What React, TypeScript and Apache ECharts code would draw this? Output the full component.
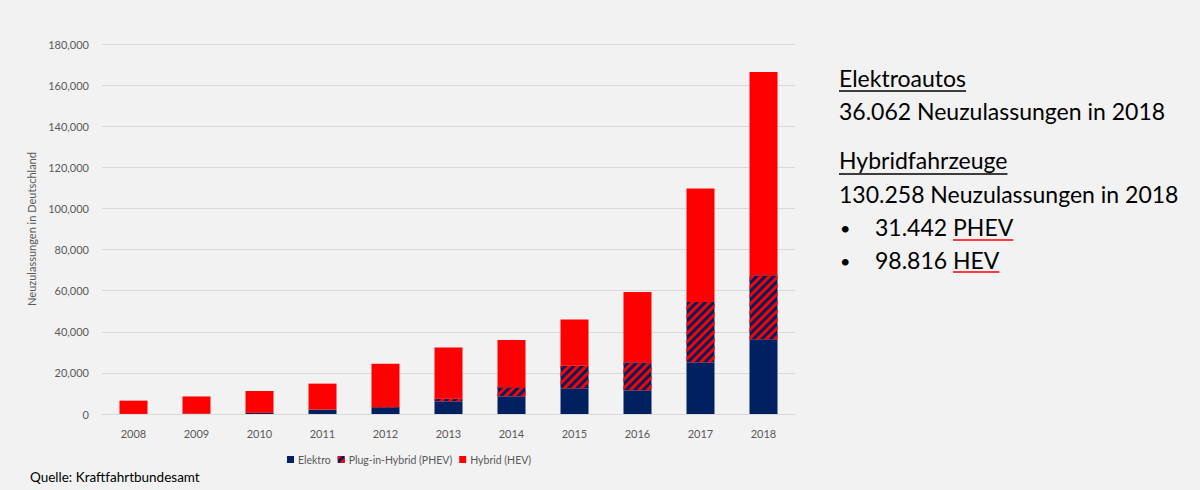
import React, { useEffect, useRef } from "react";
import * as echarts from "echarts";

const years = ["2008", "2009", "2010", "2011", "2012", "2013", "2014", "2015", "2016", "2017", "2018"];
const elektro = [36, 162, 541, 2154, 2956, 6051, 8522, 12363, 11410, 25056, 36062];
const phev = [0, 0, 0, 0, 400, 1385, 4527, 11101, 13744, 29436, 31442];
const hev = [6464, 8374, 10661, 12622, 21038, 24963, 22908, 22529, 34252, 55239, 98816];

const seriesNames = ["Elektro", "Plug-in-Hybrid (PHEV)", "Hybrid (HEV)"];
const yAxisName = "Neuzulassungen in Deutschland";
const sourceText = "Quelle: Kraftfahrtbundesamt";

const NAVY = "#002060";
const RED = "#ff0000";
const FONT = "Lato, 'Open Sans', sans-serif";
const BIG = 23;

function measure(text: string, size: number) {
  const c = document.createElement("canvas").getContext("2d");
  if (!c) return text.length * size * 0.5;
  c.font = `${size}px Lato`;
  return c.measureText(text).width;
}

export default function App() {
  const ref = useRef<HTMLDivElement>(null);
  useEffect(() => {
    document.body.style.margin = "0";
    document.body.style.background = "#f2f2f2";
    if (!ref.current) return;
    const chart = echarts.init(ref.current, undefined, { renderer: "svg" });
    const textStyleBig = { fill: "#000", fontSize: BIG, fontFamily: FONT };
    const line = (x1: number, x2: number, y: number, color: string) => ({
      type: "line",
      shape: { x1, y1: y, x2, y2: y },
      style: { stroke: color, lineWidth: 1.3 },
      silent: true,
    });
    const txt = (x: number, y: number, text: string, size = BIG) => ({
      type: "text",
      x,
      y: y - 3,
      style: { ...textStyleBig, fontSize: size, text, verticalAlign: "bottom" },
    });
    const under = (x: number, y: number, text: string, color: string) =>
      line(x, x + measure(text, BIG), y, color);
    const priceX = 875 + measure("31.442 ", BIG);
    const hevX = 875 + measure("98.816 ", BIG);
    chart.setOption({
      animation: false,
      backgroundColor: "#f2f2f2",
      textStyle: { fontFamily: FONT },
      grid: { left: 102, right: 405, top: 44, bottom: 76 },
      legend: {
        left: 282,
        top: 449,
        itemWidth: 7,
        itemHeight: 7,
        itemGap: 7,
        icon: "rect",
        textStyle: { color: "#595959", fontSize: 10.5, fontFamily: FONT, padding: [0, 0, 0, -1] },
        data: seriesNames,
      },
      xAxis: {
        type: "category",
        data: years,
        axisLine: { show: true, lineStyle: { color: "#d9d9d9", width: 1 } },
        axisTick: { show: false },
        axisLabel: { color: "#595959", fontSize: 11, margin: 14, fontFamily: FONT },
      },
      yAxis: {
        type: "value",
        min: 0,
        max: 180000,
        interval: 20000,
        name: yAxisName,
        nameLocation: "middle",
        nameGap: 59,
        nameTextStyle: { color: "#595959", fontSize: 11, fontFamily: FONT },
        axisLine: { show: false },
        axisTick: { show: false },
        splitLine: { lineStyle: { color: "#d9d9d9", width: 1 } },
        axisLabel: {
          color: "#595959",
          fontSize: 11,
          margin: 13,
          fontFamily: FONT,
          formatter: (v: number) => v.toLocaleString("en-US"),
        },
      },
      series: [
        {
          name: seriesNames[0],
          type: "bar",
          stack: "total",
          barWidth: 28,
          data: elektro,
          itemStyle: { color: NAVY },
        },
        {
          name: seriesNames[1],
          type: "bar",
          stack: "total",
          barWidth: 28,
          data: phev,
          itemStyle: {
            color: NAVY,
            decal: {
              symbol: "rect",
              symbolSize: 1,
              color: RED,
              dashArrayX: [1, 0],
              dashArrayY: [3, 3],
              rotation: -Math.PI / 4,
            },
          },
        },
        {
          name: seriesNames[2],
          type: "bar",
          stack: "total",
          barWidth: 28,
          data: hev,
          itemStyle: { color: RED },
        },
      ],
      graphic: [
        txt(839, 92, "Elektroautos"),
        under(839, 91, "Elektroautos", "#000"),
        txt(839, 125, "36.062 Neuzulassungen in 2018"),
        txt(839, 174, "Hybridfahrzeuge"),
        under(839, 174, "Hybridfahrzeuge", "#000"),
        txt(839, 208, "130.258 Neuzulassungen in 2018"),
        txt(840, 240, "•", 18),
        txt(875, 241, "31.442 PHEV"),
        under(priceX, 240, "PHEV", RED),
        txt(840, 273, "•", 18),
        txt(875, 274, "98.816 HEV"),
        under(hevX, 272, "HEV", RED),
        {
          type: "text",
          x: 30,
          y: 477,
          style: { text: sourceText, fill: "#000", fontSize: 13.5, fontFamily: FONT, verticalAlign: "middle" },
        },
      ],
    });
    return () => chart.dispose();
  }, []);
  return <div ref={ref} style={{ width: 1200, height: 490 }} />;
}
